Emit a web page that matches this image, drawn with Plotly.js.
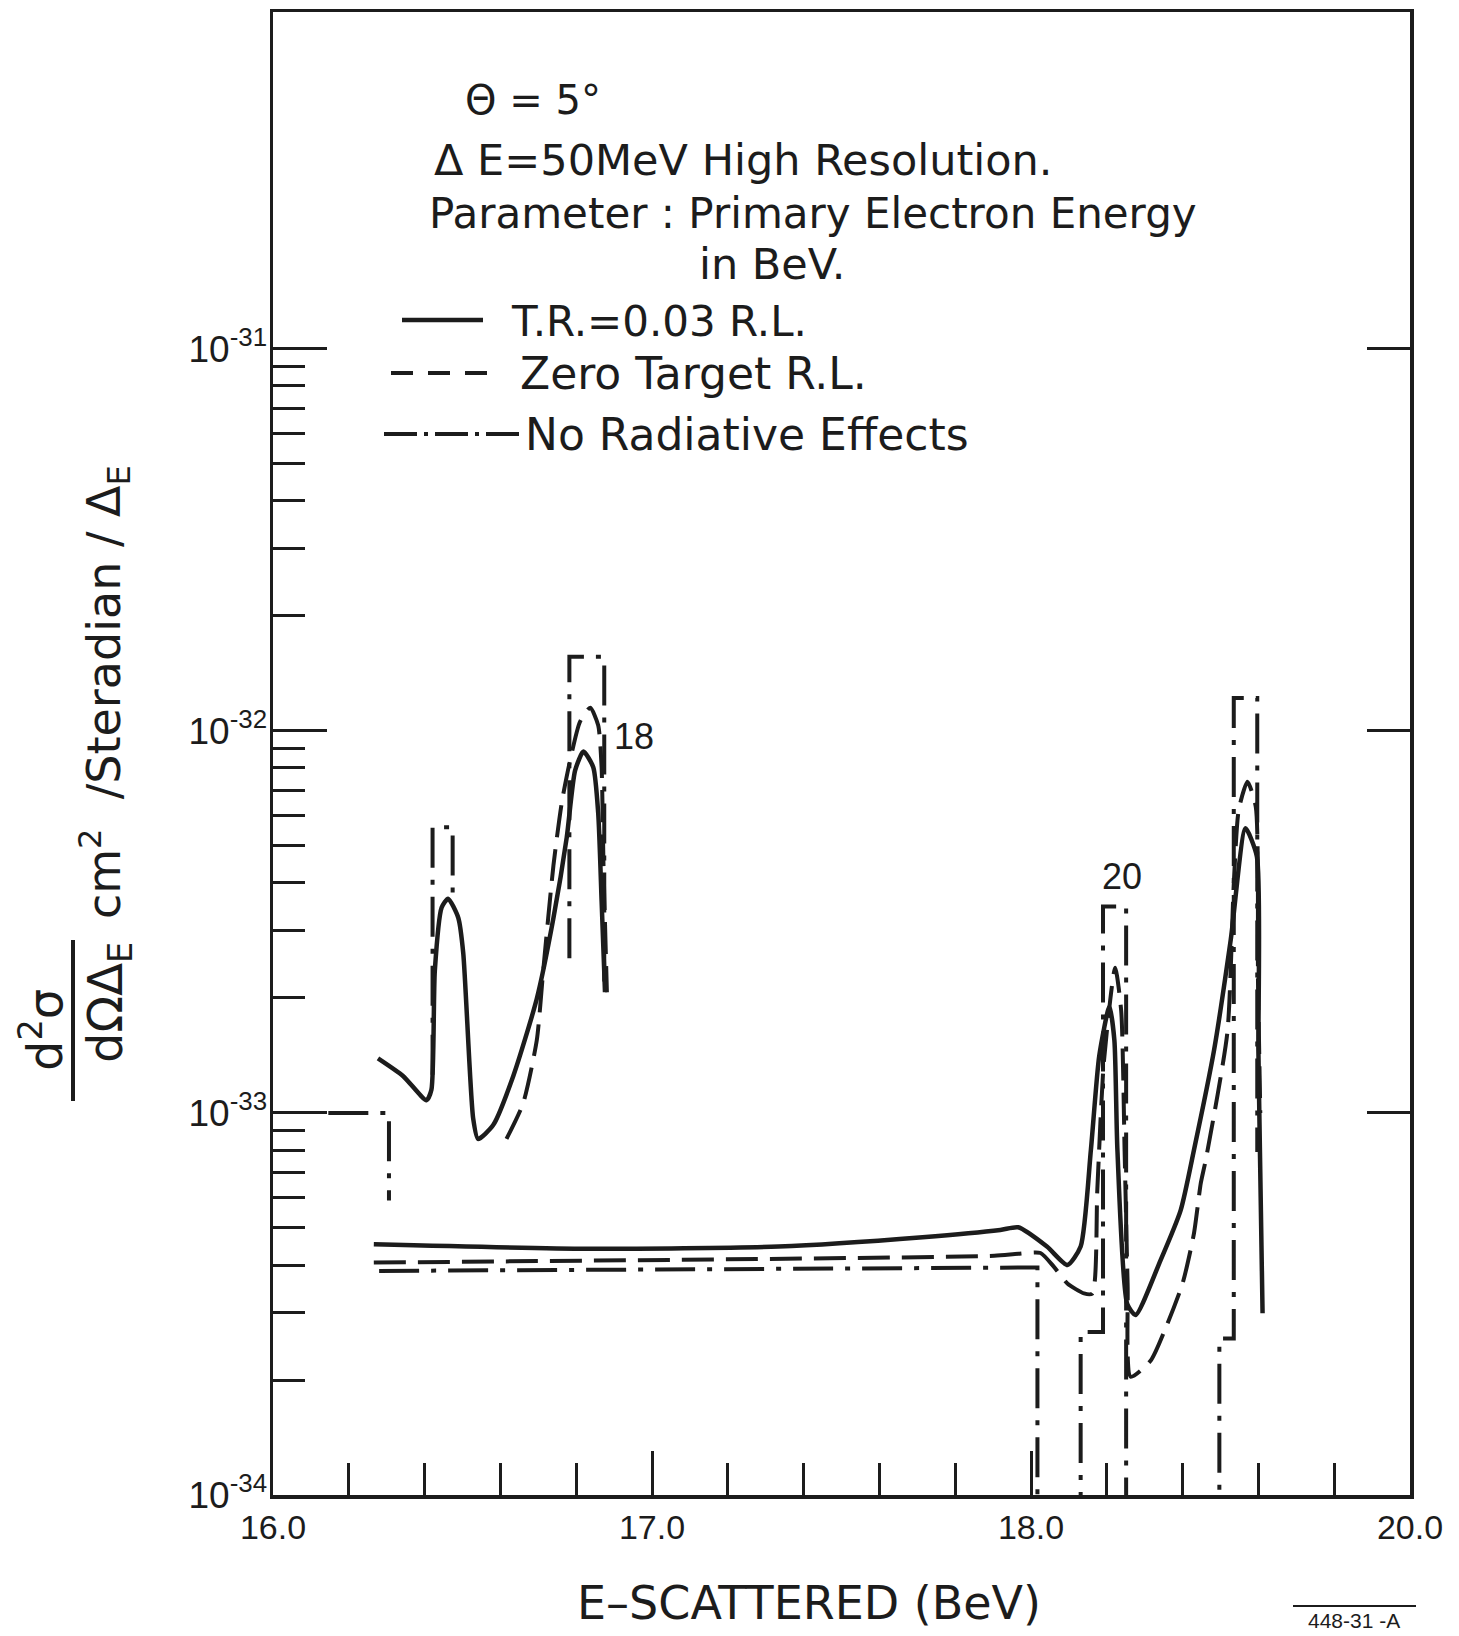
<!DOCTYPE html>
<html>
<head>
<meta charset="utf-8">
<script src="https://cdn.plot.ly/plotly-3.0.1.min.js"></script>
<style>
  html, body { margin: 0; padding: 0; background: #ffffff; }
  #chart { width: 1459px; height: 1636px; }
</style>
</head>
<body>
<div id="chart"></div>
<script>
// ---------------- data ----------------
// x : scattered energy on the plotted axis (BeV), y : d2sigma/dOmega dE (cm^2/sr/dE)

// Primary energy 18 BeV
const e18SolidX = [16.277,16.343,16.405,16.418,16.427,16.445,16.462,16.489,16.502,16.528,16.541,16.581,16.634,16.696,16.740,16.775,16.797,16.819,16.845,16.858,16.867,16.876];
const e18SolidY = [1.39e-33,1.25e-33,1.08e-33,1.15e-33,2.36e-33,3.45e-33,3.64e-33,3.24e-33,2.62e-33,9.7e-34,8.55e-34,9.3e-34,1.25e-33,1.99e-33,3.24e-33,5.26e-33,7.87e-33,8.83e-33,8.04e-33,6.11e-33,3.6e-33,2.07e-33];

const e18DashX = [16.616,16.660,16.696,16.713,16.740,16.762,16.784,16.810,16.837,16.858,16.867,16.872,16.881];
const e18DashY = [8.55e-34,1.06e-33,1.55e-33,2.36e-33,4.45e-33,6.5e-33,8.38e-33,1.057e-32,1.15e-32,1.035e-32,8.04e-33,4.45e-33,2.07e-33];

const e18NoRadX = [16.146,16.306,16.306,null,16.421,16.421,16.474,16.474,null,16.782,16.782,16.874,16.874];
const e18NoRadY = [1.0e-33,1.0e-33,5.9e-34,null,1.26e-33,5.6e-33,5.6e-33,3.67e-33,null,2.54e-33,1.563e-32,1.563e-32,2.07e-33];

// Primary energy 20 BeV
const e20SolidX = [16.266,16.829,17.334,17.714,17.919,17.966,18.042,18.096,18.131,18.158,18.180,18.207,18.220,18.228,18.254,18.276,18.342,18.395,18.430,18.483,18.527,18.566,18.596,18.600,18.604,18.611];
const e20SolidY = [4.53e-34,4.41e-34,4.47e-34,4.73e-34,4.94e-34,5.02e-34,4.47e-34,4.0e-34,4.47e-34,8.0e-34,1.41e-33,1.9e-33,1.55e-33,8.0e-34,3.16e-34,2.96e-34,4.12e-34,5.57e-34,8.0e-34,1.46e-33,2.84e-33,5.56e-33,4.69e-33,1.46e-33,8.0e-34,2.99e-34];

const e20DashX = [16.266,17.903,17.966,18.025,18.060,18.096,18.140,18.162,18.175,18.192,18.222,18.238,18.247,18.255,18.263,18.316,18.360,18.400,18.430,18.448,18.461,18.518,18.535,18.548,18.571,18.593,18.599,18.605];
const e20DashY = [4.06e-34,4.23e-34,4.28e-34,4.30e-34,3.96e-34,3.58e-34,3.37e-34,3.37e-34,6.31e-34,1.35e-33,2.4e-33,1.85e-33,7.94e-34,3.55e-34,2.04e-34,2.25e-34,2.81e-34,3.58e-34,4.84e-34,6.55e-34,7.53e-34,1.62e-33,3.98e-33,6.21e-33,7.36e-33,6.34e-33,2.19e-33,1.0e-33];

const e20NoRadX = [16.28,18.004,18.017,18.017,18.131,18.131,18.190,18.190,18.251,18.251,18.497,18.497,18.535,18.535,18.597,18.597];
const e20NoRadY = [3.86e-34,3.94e-34,3.94e-34,1e-35,1e-35,2.67e-34,2.67e-34,3.47e-33,3.47e-33,1e-35,1e-35,2.57e-34,2.57e-34,1.219e-32,1.219e-32,7.9e-34];

// axis ticks
const xTickVals = [16, 17, 18, 19];
const xTickText = ['16.0', '17.0', '18.0', '20.0'];
const yMajorTicks = [1e-34, 1e-33, 1e-32, 1e-31];
const yMajorText = ['10<sup>-34</sup>', '10<sup>-33</sup>', '10<sup>-32</sup>', '10<sup>-31</sup>'];
const yMinorTicks = [2e-34,3e-34,4e-34,5e-34,6e-34,7e-34,8e-34,9e-34,
                     2e-33,3e-33,4e-33,5e-33,6e-33,7e-33,8e-33,9e-33,
                     2e-32,3e-32,4e-32,5e-32,6e-32,7e-32,8e-32,9e-32];

// curve labels (primary energy in BeV)
const peakLabels = ['18', '20'];
const peakLabelX = [16.953, 18.240];
const peakLabelY = [9.7e-33, 4.15e-33];

// ---------------- drawing ----------------
const INK = '#1c1c1c';
const DASH = '32px,12px';
const DASHDOT = '40px,12px,5px,12px';

function line(x, y, dash, width, shape, yax) {
  return {
    x: x, y: y, type: 'scatter', mode: 'lines', showlegend: false,
    connectgaps: false, hoverinfo: 'skip', yaxis: yax || 'y',
    line: { color: INK, width: width, dash: dash, shape: shape || 'linear', smoothing: 0.6 }
  };
}

// all three y axes share the same fixed log range, so every trace maps identically
const traces = [
  line(e20NoRadX, e20NoRadY, DASHDOT, 4, 'linear', 'y2'),
  line(e18NoRadX, e18NoRadY, DASHDOT, 4, 'linear', 'y3'),
  line(e20DashX, e20DashY, DASH, 4, 'spline'),
  line(e18DashX, e18DashY, DASH, 4, 'spline'),
  line(e20SolidX, e20SolidY, 'solid', 4.5, 'spline'),
  line(e18SolidX, e18SolidY, 'solid', 4.5, 'spline')
];

// plot area in page pixels
const L = 273, R = 1410, T = 12, B = 1495;
const W = 1459, H = 1636;
const px = fx => (fx - L) / (R - L);
const py = fy => (B - fy) / (B - T);

const TXT = 'DejaVu Sans';

function note(text, fx, fy, size, opts) {
  return Object.assign({
    text: text, xref: 'paper', yref: 'paper', x: px(fx), y: py(fy),
    showarrow: false, xanchor: 'center', yanchor: 'middle',
    font: { family: TXT, size: size, color: INK }
  }, opts || {});
}

const annotations = [
  note('\u0398 = 5\u00b0', 533, 100, 40),
  note('\u0394 E=50MeV High Resolution.', 743, 160, 43),
  note('Parameter : Primary Electron Energy', 813, 214, 42),
  note('in BeV.', 772, 264, 43),
  note('T.R.=0.03 R.L.', 509, 322, 42, { xanchor: 'left' }),
  note('Zero Target R.L.', 518, 373, 44, { xanchor: 'left' }),
  note('No Radiative Effects', 523, 434, 44, { xanchor: 'left' }),
  // x-axis title
  note('E\u2013SCATTERED (BeV)', 809, 1603, 46),
  // y-axis label, written sideways as in the original
  note('d<sup>2</sup>\u03c3', 42, 1030, 48, { textangle: -90 }),
  note('d\u03a9\u0394<sub>E</sub>', 108, 1003, 48, { textangle: -90 }),
  note('cm<sup>2</sup>  /Steradian / \u0394<sub>E</sub>', 104, 692, 46, { textangle: -90 }),
  // drawing number
  note('448-31 -A', 1354, 1620, 21, { font: { family: 'Liberation Sans', size: 21, color: INK } })
];
for (let i = 0; i < peakLabels.length; i++) {
  annotations.push({
    text: peakLabels[i], x: peakLabelX[i], y: Math.log10(peakLabelY[i]),
    xref: 'x', yref: 'y', showarrow: false, xanchor: 'center', yanchor: 'middle',
    font: { family: 'Liberation Sans', size: 36, color: INK }
  });
}

function seg(x0, y0, x1, y1, dash, width) {
  return { type: 'line', xref: 'paper', yref: 'paper', x0: px(x0), y0: py(y0), x1: px(x1), y1: py(y1),
           line: { color: INK, width: width || 4, dash: dash || 'solid' } };
}
const shapes = [
  seg(402, 320, 483, 320, 'solid', 4.5),
  seg(391, 373, 490, 373, '22px,15px', 4),
  seg(384, 434, 522, 434, '33px,7px,4px,7px', 4),
  seg(73, 940, 73, 1101, 'solid', 4),      // fraction bar of the y label
  seg(1293, 1606, 1416, 1606, 'solid', 2)  // overline of drawing number
];

const yRange = [-34, -30.118];
const layout = {
  width: W, height: H,
  margin: { l: L, r: W - R, t: T, b: H - B, pad: 0 },
  paper_bgcolor: '#ffffff', plot_bgcolor: '#ffffff',
  showlegend: false,
  xaxis: {
    range: [16, 19], tickmode: 'array', tickvals: xTickVals, ticktext: xTickText,
    ticks: 'inside', ticklen: 44, tickwidth: 3, tickcolor: INK,
    showline: true, linecolor: INK, linewidth: 3.5, mirror: true,
    showgrid: false, zeroline: false, ticklabelstandoff: 0,
    tickfont: { family: 'Liberation Sans', size: 34, color: INK },
    minor: { dtick: 0.2, tick0: 16, ticks: 'inside', ticklen: 32, tickwidth: 3, tickcolor: INK, showgrid: false }
  },
  yaxis: {
    type: 'log', range: yRange, tickmode: 'array', tickvals: yMajorTicks, ticktext: yMajorText,
    ticks: 'inside', ticklen: 54, tickwidth: 3, tickcolor: INK,
    showline: true, linecolor: INK, linewidth: 3.5, mirror: true,
    showgrid: false, zeroline: false, ticklabelstandoff: -5,
    tickfont: { family: 'Liberation Sans', size: 37, color: INK }
  },
  // right-hand frame ticks (decades only)
  yaxis2: {
    type: 'log', range: yRange, overlaying: 'y', side: 'right', anchor: 'x',
    tickmode: 'array', tickvals: yMajorTicks,
    ticks: 'inside', ticklen: 43, tickwidth: 3, tickcolor: INK,
    showticklabels: false, showline: false, showgrid: false, zeroline: false
  },
  // left-hand minor ticks, only between 10^-34 and 10^-31 as in the original
  yaxis3: {
    type: 'log', range: yRange, overlaying: 'y', side: 'left', anchor: 'x',
    tickmode: 'array', tickvals: yMinorTicks,
    ticks: 'inside', ticklen: 32, tickwidth: 3, tickcolor: INK,
    showticklabels: false, showline: false, showgrid: false, zeroline: false
  },
  annotations: annotations,
  shapes: shapes
};

Plotly.newPlot('chart', traces, layout, { staticPlot: true, displayModeBar: false });
</script>
</body>
</html>
